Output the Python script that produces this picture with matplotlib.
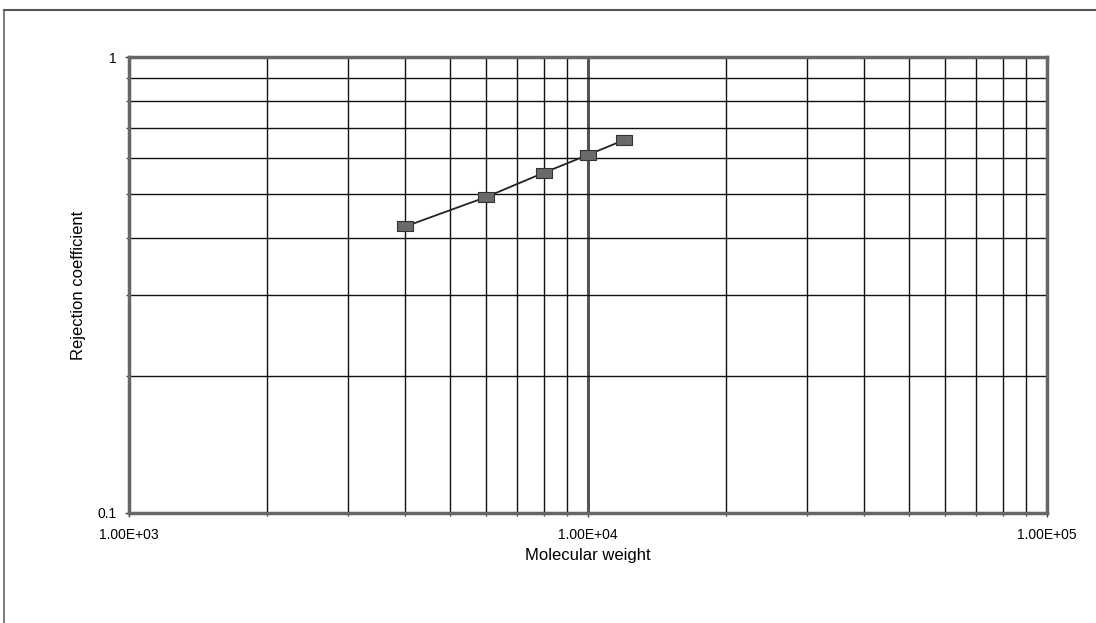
import matplotlib.pyplot as plt
from matplotlib.ticker import FixedLocator, NullFormatter, FixedFormatter
from matplotlib.lines import Line2D

plt.rcParams['font.family'] = ['Liberation Sans', 'DejaVu Sans']

molecular_weight = [4000, 6000, 8000, 10000, 12000]
rejection = [0.425, 0.493, 0.557, 0.610, 0.658]

fig = plt.figure(figsize=(10.96, 6.23), dpi=100)
ax = fig.add_axes([0.1177, 0.1766, 0.8376, 0.7319])

rect = [(-1.6, -1), (1.6, -1), (1.6, 1), (-1.6, 1), (-1.6, -1)]
ax.plot(molecular_weight, rejection, color='#222222', lw=1.3,
        marker=rect, markersize=11, markerfacecolor='#6a6a6a',
        markeredgecolor='#333333', markeredgewidth=0.8, zorder=5)

ax.set_xscale('log')
ax.set_yscale('log')
ax.set_xlim(1e3, 1e5)
ax.set_ylim(0.1, 1)

ax.xaxis.set_major_locator(FixedLocator([1e3, 1e4, 1e5]))
ax.xaxis.set_major_formatter(FixedFormatter(['1.00E+03', '1.00E+04', '1.00E+05']))
ax.xaxis.set_minor_locator(FixedLocator([m * 10 ** e for e in (3, 4) for m in range(2, 10)]))
ax.xaxis.set_minor_formatter(NullFormatter())
ax.yaxis.set_major_locator(FixedLocator([0.1, 1]))
ax.yaxis.set_major_formatter(FixedFormatter(['0.1', '1']))
ax.yaxis.set_minor_locator(FixedLocator([m / 10 for m in range(2, 10)]))
ax.yaxis.set_minor_formatter(NullFormatter())

ax.grid(which='minor', color='#111111', lw=1.0)
ax.grid(which='major', color='#555555', lw=2.2)
ax.set_axisbelow(True)
for s in ax.spines.values():
    s.set_color('#666666')
    s.set_linewidth(2.5)

ax.tick_params(which='major', length=3, width=1, labelsize=10, color='#444444')
ax.tick_params(axis='x', which='major', pad=8)
ax.tick_params(axis='y', which='major', pad=6)
ax.tick_params(which='minor', length=2, width=1, color='#444444')

ax.set_xlabel('Molecular weight', fontsize=12, labelpad=4)
ax.set_ylabel('Rejection coefficient', fontsize=12, labelpad=8)

# outer chart border
fig.add_artist(Line2D([0.004, 0.004], [0.0, 0.984], color='#666666', lw=1.2))
fig.add_artist(Line2D([0.004, 1.0], [0.984, 0.984], color='#555555', lw=1.5))

fig.savefig('out.png', dpi=100)
